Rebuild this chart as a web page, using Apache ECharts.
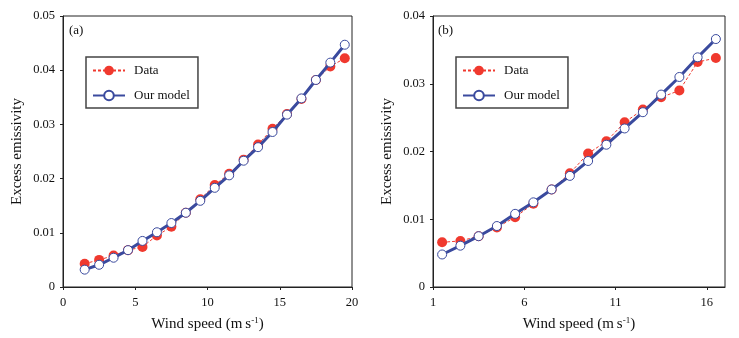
<!DOCTYPE html>
<html>
<head>
<meta charset="utf-8">
<script src="https://cdn.jsdelivr.net/npm/echarts@6/dist/echarts.min.js"></script>
<style>
  html, body { margin: 0; padding: 0; background: #fff; }
  #chart { width: 739px; height: 338px; }
</style>
</head>
<body>
<div id="chart"></div>
<script>
// panel (a)
var speedA = [1.5, 2.5, 3.5, 4.5, 5.5, 6.5, 7.5, 8.5, 9.5, 10.5, 11.5, 12.5, 13.5, 14.5, 15.5, 16.5, 17.5, 18.5, 19.5];
var dataA  = [0.0043, 0.0050, 0.0058, 0.0068, 0.0074, 0.0095, 0.0111, 0.0137, 0.0162, 0.0188, 0.0209, 0.0235, 0.0263, 0.0292, 0.0319, 0.0347, 0.0382, 0.0407, 0.0422];
var modelA = [0.0032, 0.0041, 0.0054, 0.0068, 0.0085, 0.0101, 0.0118, 0.0137, 0.0159, 0.0183, 0.0206, 0.0233, 0.0258, 0.0286, 0.0318, 0.0348, 0.0382, 0.0414, 0.0447];

// panel (b)
var speedB = [1.5, 2.5, 3.5, 4.5, 5.5, 6.5, 7.5, 8.5, 9.5, 10.5, 11.5, 12.5, 13.5, 14.5, 15.5, 16.5];
var dataB  = [0.0066, 0.0068, 0.0075, 0.0088, 0.0103, 0.0123, 0.0144, 0.0168, 0.0197, 0.0215, 0.0243, 0.0262, 0.0280, 0.0290, 0.0332, 0.0338];
var modelB = [0.0048, 0.0061, 0.0075, 0.0090, 0.0108, 0.0125, 0.0144, 0.0164, 0.0186, 0.0210, 0.0234, 0.0258, 0.0284, 0.0310, 0.0339, 0.0366];

var ticksBx = [1, 6, 11, 16];

var FONT = 'Liberation Serif';
var RED = '#f0392e';
var BLUE = '#3a4a9e';
var AXIS = '#222';

function pairs(xs, ys) {
    return xs.map(function (x, i) { return [x, ys[i]]; });
}

function xAxisOf(idx, min, max, interval, custom) {
    var ax = {
        type: 'value', gridIndex: idx, min: min, max: max,
        name: '{t|Wind speed (m\u2009s}{s|-1}{t|)}',
        nameLocation: 'middle', nameGap: 29,
        nameTextStyle: {
            rich: {
                t: { fontFamily: FONT, fontSize: 15, color: '#111' },
                s: { fontFamily: FONT, fontSize: 9, color: '#111', verticalAlign: 'bottom', padding: [0, 0, 7, 0] }
            }
        },
        axisLine: { show: true, lineStyle: { color: AXIS, width: 1 } },
        axisTick: { show: true, length: 3, lineStyle: { color: AXIS } },
        axisLabel: { fontFamily: FONT, fontSize: 12.5, color: '#111', margin: 9 },
        splitLine: { show: false }
    };
    if (custom) {
        ax.axisTick.customValues = custom;
        ax.axisLabel.customValues = custom;
    } else {
        ax.interval = interval;
    }
    return ax;
}

function yAxisOf(idx, max) {
    return {
        type: 'value', gridIndex: idx, min: 0, max: max, interval: 0.01,
        name: 'Excess emissivity',
        nameLocation: 'middle', nameGap: 38,
        nameTextStyle: { fontFamily: FONT, fontSize: 15, color: '#111' },
        axisLine: { show: true, lineStyle: { color: AXIS, width: 1 } },
        axisTick: { show: true, length: 3, lineStyle: { color: AXIS } },
        axisLabel: { fontFamily: FONT, fontSize: 12.5, color: '#111', margin: 8 },
        splitLine: { show: false }
    };
}

function dataSeries(idx, xs, ys) {
    return {
        name: 'Data', type: 'line', xAxisIndex: idx, yAxisIndex: idx,
        data: pairs(xs, ys),
        symbol: 'circle', symbolSize: 10,
        itemStyle: { color: RED },
        lineStyle: { color: RED, width: 1, type: [3, 2] },
        z: 2
    };
}

function modelSeries(idx, xs, ys) {
    return {
        name: 'Our model', type: 'line', xAxisIndex: idx, yAxisIndex: idx,
        data: pairs(xs, ys),
        symbol: 'circle', symbolSize: 9,
        itemStyle: { color: '#fff', borderColor: BLUE, borderWidth: 1 },
        lineStyle: { color: BLUE, width: 3 },
        z: 3
    };
}

function legendOf(left, top) {
    return {
        left: left, top: top, orient: 'vertical',
        data: ['Data', 'Our model'],
        itemWidth: 32, itemHeight: 12, itemGap: 12,
        padding: [7, 8, 6, 6],
        borderColor: '#444', borderWidth: 1.5, borderRadius: 0,
        textStyle: { fontFamily: FONT, fontSize: 13, color: '#111', padding: [0, 0, 0, 4] },
        selectedMode: false
    };
}

var chart = echarts.init(document.getElementById('chart'));
chart.setOption({
    animation: false,
    backgroundColor: '#fff',
    grid: [
        { left: 63, top: 16, width: 289, height: 271, show: true, borderColor: AXIS, borderWidth: 1, backgroundColor: 'transparent' },
        { left: 433, top: 16, width: 292, height: 271, show: true, borderColor: AXIS, borderWidth: 1, backgroundColor: 'transparent' }
    ],
    xAxis: [xAxisOf(0, 0, 20, 5), xAxisOf(1, 1, 17, null, ticksBx)],
    yAxis: [yAxisOf(0, 0.05), yAxisOf(1, 0.04)],
    legend: [legendOf(86, 57), legendOf(456, 57)],
    graphic: [
        { type: 'text', left: 69, top: 24, style: { text: '(a)', font: '13px "Liberation Serif"', fill: '#111' } },
        { type: 'text', left: 438, top: 24, style: { text: '(b)', font: '13px "Liberation Serif"', fill: '#111' } }
    ],
    series: [
        dataSeries(0, speedA, dataA),
        modelSeries(0, speedA, modelA),
        dataSeries(1, speedB, dataB),
        modelSeries(1, speedB, modelB)
    ]
});
</script>
</body>
</html>
